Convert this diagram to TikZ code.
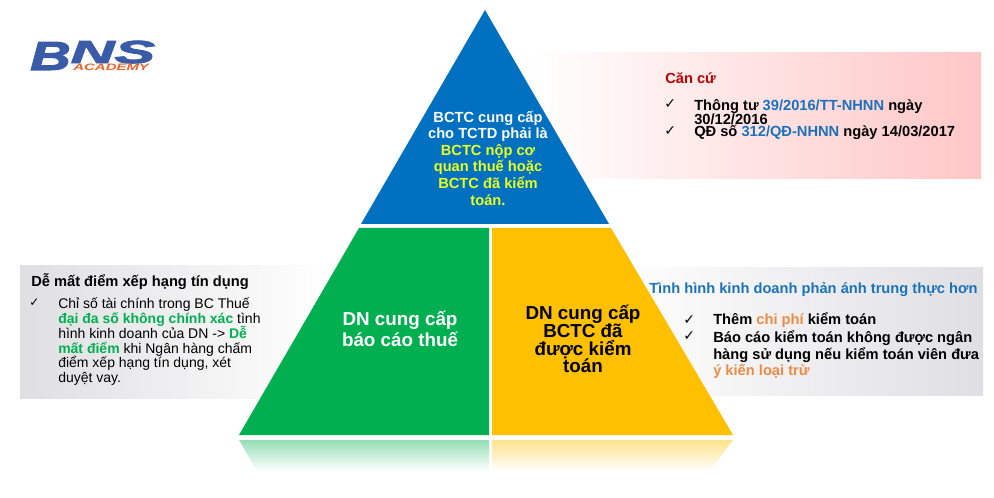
\documentclass[tikz,border=0pt]{standalone}
\usepackage{fontspec}
\usepackage{graphicx}
\setmainfont{Liberation Sans}
\newfontfamily\symfont{DejaVu Sans}
\newfontfamily\logofont[FakeBold=2.5]{Liberation Sans Bold Italic}
\definecolor{cblue}{HTML}{0070C0}
\definecolor{cgreen}{HTML}{00B050}
\definecolor{cyellow}{HTML}{FFC000}
\definecolor{ctitle}{HTML}{1A72BE}
\definecolor{cred}{HTML}{C00000}
\definecolor{corange}{HTML}{ED8B45}
\definecolor{cgray}{HTML}{DFDFE2}
\definecolor{cpink}{HTML}{FFC6C6}
\definecolor{clogo}{HTML}{3A5BA8}
\definecolor{clogor}{HTML}{E8622A}
\definecolor{cneon}{HTML}{E8FF20}
\tikzset{
 tick/.style={inner sep=0pt,font=\symfont\fontsize{10.5pt}{11pt}\selectfont,anchor=base west},
 smalltick/.style={tick,font=\symfont\fontsize{9pt}{10pt}\selectfont},
 head/.style={inner sep=0pt,anchor=base west},
 body/.style={inner sep=0pt,anchor=north west,align=left},
 center/.style={inner sep=0pt,align=center,anchor=center},
 every node/.append style={execute at begin node={\lineskiplimit=-30pt\relax}},
}
\newcommand{\rb}[1]{\textcolor{ctitle}{#1}}
\newcommand{\ro}[1]{\textcolor{corange}{#1}}
\newcommand{\rg}[1]{\textcolor{cgreen}{\textbf{#1}}}
\newcommand{\ry}[1]{\textcolor{cneon}{#1}}
\begin{document}
\begin{tikzpicture}[x=0.75pt,y=-0.75pt]
\useasboundingbox (0,0) rectangle (994,498);
\fill[white] (0,0) rectangle (994,498);
% panels
\shade[left color=white,right color=cpink] (530,53) rectangle (981,179);
\shade[left color=white,right color=cgray] (610,268) rectangle (983,395);
\shade[left color=cgray,right color=white] (20,266) rectangle (330,398);
% pyramid
\fill[cblue] (485,10) -- (609,224) -- (361,224) -- cycle;
\fill[cgreen] (359,228) -- (489,228) -- (489,435) -- (239,435) -- cycle;
\fill[cyellow] (492,228) -- (611,228) -- (733,435) -- (492,435) -- cycle;
% reflection
\shade[top color=cgreen!42!white,bottom color=white] (239,440) -- (489,440) -- (489,471) -- (257,471) -- cycle;
\shade[top color=cyellow!45!white,bottom color=white] (492,440) -- (733,440) -- (710,471) -- (492,471) -- cycle;
% logo
\node[head,text=clogo] (logo) at (30,70) {\logofont\fontsize{30.4pt}{31pt}\selectfont\scalebox{1.38}[1]{B}\raisebox{5.2pt}{\fontsize{24pt}{24pt}\selectfont\scalebox{1.9}[1]{NS}}};
\node[head,text=clogor,xscale=1.6,font=\bfseries\itshape\fontsize{7pt}{8pt}\selectfont] (academy) at (73,70.5) {ACADEMY};
% pyramid text
\node[center,text=white,font=\bfseries\fontsize{11pt}{12.45pt}\selectfont] (top) at (488,158) {BCTC cung cấp\\cho TCTD phải là\\\ry{BCTC nộp cơ}\\\ry{quan thuế hoặc}\\\ry{BCTC đã kiểm}\\\ry{toán.}};
\node[center,text=white,font=\bfseries\fontsize{14.1pt}{16pt}\selectfont] (left) at (400,329) {DN cung cấp\\báo cáo thuế};
\node[center,text=black,font=\bfseries\fontsize{14.1pt}{13.3pt}\selectfont] (right) at (583,339) {DN cung cấp\\BCTC đã\\được kiểm\\toán};
% top panel
\node[head,text=cred,font=\bfseries\fontsize{11pt}{12pt}\selectfont] (cc) at (665,84) {Căn cứ};
\node[tick] (t1) at (664,109) {✓};
\node[body,font=\bfseries\fontsize{11pt}{10.5pt}\selectfont] (b1) at (694,99.2) {\strut Thông tư \rb{39/2016/TT-NHNN} ngày\\30/12/2016};
\node[tick] (t2) at (664,136) {✓};
\node[head,font=\bfseries\fontsize{11pt}{10.5pt}\selectfont] (b2) at (694,137) {QĐ số \rb{312/QĐ-NHNN} ngày 14/03/2017};
% right panel
\node[head,text=ctitle,font=\bfseries\fontsize{11pt}{12pt}\selectfont] (ti) at (649,294) {Tình hình kinh doanh phản ánh trung thực hơn};
\node[tick] (t3) at (683,325) {✓};
\node[head,font=\bfseries\fontsize{11pt}{12pt}\selectfont] (b3) at (713,325) {Thêm \ro{chi phí} kiểm toán};
\node[tick] (t4) at (683,340) {✓};
\node[body,font=\bfseries\fontsize{11pt}{12.4pt}\selectfont] (b4) at (713,330.4) {\strut Báo cáo kiểm toán không được ngân\\hàng sử dụng nếu kiểm toán viên đưa\\\ro{ý kiến loại trừ}};
% left panel
\node[head,font=\bfseries\fontsize{11pt}{12pt}\selectfont] (dm) at (31,287) {Dễ mất điểm xếp hạng tín dụng};
\node[smalltick] (t5) at (29,307) {✓};
\node[body,font=\fontsize{10.5pt}{11.1pt}\selectfont] (b5) at (58,297.6) {\strut Chỉ số tài chính trong BC Thuế\\\rg{đại đa số không chính xác} tình\\hình kinh doanh của DN -> \rg{Dễ}\\\rg{mất điểm} khi Ngân hàng chấm\\điểm xếp hạng tín dụng, xét\\duyệt vay.};
\end{tikzpicture}
\end{document}
